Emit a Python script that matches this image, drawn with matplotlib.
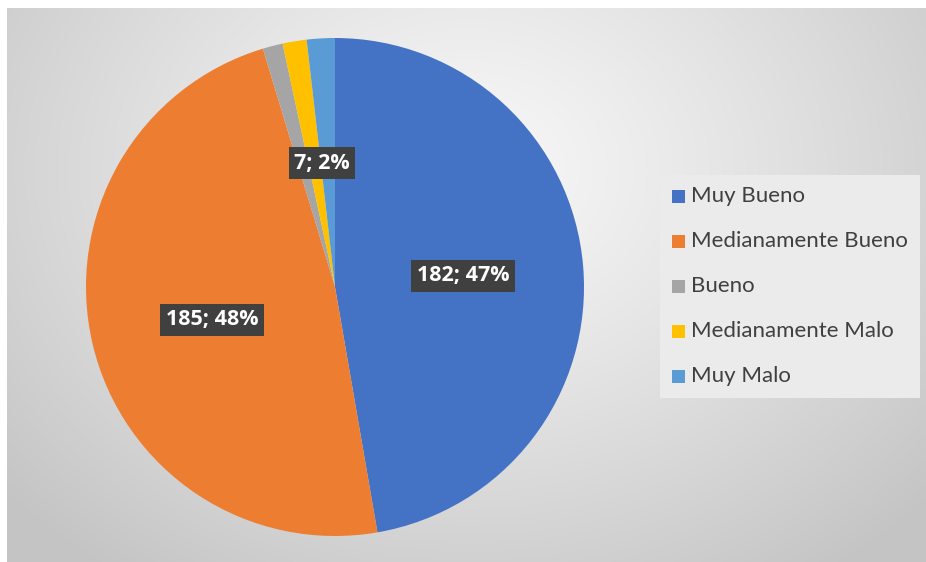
import numpy as np
import matplotlib
matplotlib.use("Agg")
import matplotlib.pyplot as plt

categories = ["Muy Bueno", "Medianamente Bueno", "Bueno", "Medianamente Malo", "Muy Malo"]
values = [182, 185, 5, 6, 7]
colors = ["#4472C4", "#ED7D31", "#A5A5A5", "#FFC000", "#5B9BD5"]
shown_labels = ["182; 47%", "185; 48%", None, None, "7; 2%"]

W, H = 926, 562
fig = plt.figure(figsize=(W / 100, H / 100), dpi=100)
fig.patch.set_facecolor("white")
ax = fig.add_axes([0, 0, 1, 1])
ax.set_xlim(0, W)
ax.set_ylim(0, H)
ax.set_aspect("equal")
ax.axis("off")

# background radial gradient (plot area)
x0, x1, y0, y1 = 7, W, 0, H - 8
gx = np.linspace(x0, x1, 400)
gy = np.linspace(y0, y1, 240)
GX, GY = np.meshgrid(gx, gy)
cx, cy = 470, H - 170
d = np.sqrt((GX - cx) ** 2 + ((GY - cy) * 1.25) ** 2) / 620
d = np.clip(d, 0, 1)
val = 0.97 - 0.2 * d ** 1.2
img = np.dstack([val, val, val])
ax.imshow(img, extent=[x0, x1, y0, y1], origin="lower", zorder=0, aspect="auto")

# pie
center = (335, H - 287)
radius = 249
wedges, _ = ax.pie(values, colors=colors, startangle=90, counterclock=False,
                   center=center, radius=radius, frame=True,
                   wedgeprops=dict(linewidth=0))
for w in wedges:
    w.set_zorder(2)
ax.set_xlim(0, W)
ax.set_ylim(0, H)
ax.axis("off")

# data labels
label_pos = [(463, 276), (212, 320), None, None, (322, 163)]
for lab, pos in zip(shown_labels, label_pos):
    if lab is None:
        continue
    ax.text(pos[0], H - pos[1], lab, ha="center", va="center", color="white",
            fontsize=15.5, fontweight="bold", family=["Open Sans", "DejaVu Sans"],
            zorder=5,
            bbox=dict(boxstyle="square,pad=0.25", facecolor="#404040",
                      edgecolor="none"))

# legend box
lx0, ly0, lx1, ly1 = 660, 175, 920, 398
ax.add_patch(plt.Rectangle((lx0, H - ly1), lx1 - lx0, ly1 - ly0,
                           facecolor="#ebebeb", edgecolor="none", zorder=3))
ys = [196, 241, 286, 331, 376]
for cat, col, yy in zip(categories, colors, ys):
    ax.add_patch(plt.Rectangle((672, H - yy - 6.5), 13, 13, facecolor=col,
                               edgecolor="none", zorder=4))
    ax.text(691, H - yy, cat, ha="left", va="center", fontsize=16,
            color="#404040", family=["Lato", "DejaVu Sans"], zorder=4)

fig.savefig("out.png", dpi=100)
